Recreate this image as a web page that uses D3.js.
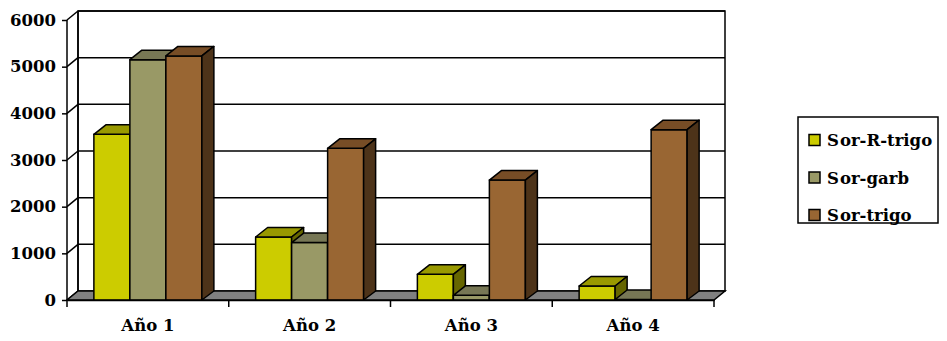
<!DOCTYPE html>
<html>
<head>
<meta charset="utf-8">
<script src="https://cdn.jsdelivr.net/npm/d3@7"></script>
<style>
  body { margin: 0; background: #fff; }
  svg text { font-family: "DejaVu Serif"; font-weight: bold; }
</style>
</head>
<body>
<svg id="chart" width="947" height="341"></svg>
<script>
const categories = ["Año 1", "Año 2", "Año 3", "Año 4"];
const seriesNames = ["Sor-R-trigo", "Sor-garb", "Sor-trigo"];
const sorRtrigo = [3550, 1350, 550, 300];
const sorGarb = [5150, 1230, 100, 10];
const sorTrigo = [5230, 3250, 2570, 3650];
const yTicks = [0, 1000, 2000, 3000, 4000, 5000, 6000];

const fronts = ["#cccc00", "#999966", "#996633"];
const tops = ["#999900", "#777755", "#774d26"];
const sides = ["#666600", "#4d4d33", "#4d3319"];
const values = [sorRtrigo, sorGarb, sorTrigo];

const svg = d3.select("#chart");
const dx = 11, dy = -9;           // wall/floor depth
const bdx = 12, bdy = -9.5;       // bar depth
const x = d3.scaleBand().domain(categories).range([67, 714]);
const y = d3.scaleLinear().domain([0, 6000]).range([300, 20]);
const barW = 36;
const xs = d3.scaleBand().domain(d3.range(3)).range([0, barW * 3]);
const groupOff = (x.bandwidth() - barW * 3) / 2;
const fontSize = 16.5;

const poly = pts => "M" + pts.map(p => p.join(",")).join("L") + "Z";

// back wall
svg.append("path")
  .attr("d", poly([[67 + dx, y(6000) + dy], [714 + dx, y(6000) + dy], [714 + dx, y(0) + dy], [67 + dx, y(0) + dy]]))
  .attr("fill", "#fff").attr("stroke", "#000").attr("stroke-width", 1.5);

// gridlines on back wall and side wall
yTicks.forEach(t => {
  if (t > 0) {
    svg.append("line")
      .attr("x1", 67 + dx).attr("x2", 714 + dx)
      .attr("y1", y(t) + dy).attr("y2", y(t) + dy)
      .attr("stroke", "#000").attr("stroke-width", 1.5);
  }
  svg.append("line")
    .attr("x1", 67).attr("y1", y(t))
    .attr("x2", 67 + dx).attr("y2", y(t) + dy)
    .attr("stroke", "#000").attr("stroke-width", 1.5);
});

svg.append("line")
  .attr("x1", 67 + dx).attr("x2", 67 + dx)
  .attr("y1", y(6000) + dy).attr("y2", y(0) + dy)
  .attr("stroke", "#000").attr("stroke-width", 1.5);

// floor
svg.append("path")
  .attr("d", poly([[67, y(0)], [714, y(0)], [714 + dx, y(0) + dy], [67 + dx, y(0) + dy]]))
  .attr("fill", "#808080").attr("stroke", "#000").attr("stroke-width", 1.5);

// bars, left to right so each front face hides the previous side
categories.forEach((c, ci) => {
  values.forEach((vals, si) => {
    const x0 = x(c) + groupOff + xs(si);
    const x1 = x0 + barW;
    const yt = y(vals[ci]);
    const yb = y(0);
    const g = svg.append("g").attr("stroke", "#000").attr("stroke-width", 1.5).attr("stroke-linejoin", "round");
    g.append("path").attr("d", poly([[x0, yt], [x1, yt], [x1, yb], [x0, yb]])).attr("fill", fronts[si]);
    g.append("path").attr("d", poly([[x0, yt], [x0 + bdx, yt + bdy], [x1 + bdx, yt + bdy], [x1, yt]])).attr("fill", tops[si]);
    g.append("path").attr("d", poly([[x1, yt], [x1 + bdx, yt + bdy], [x1 + bdx, yb + dy], [x1, yb]])).attr("fill", sides[si]);
  });
});

// y axis
const yAxis = svg.append("g").attr("transform", "translate(67,0)")
  .call(d3.axisLeft(y).tickValues(yTicks).tickSize(5).tickPadding(6).tickFormat(d3.format("d")));
yAxis.attr("font-family", null);
yAxis.selectAll("line,path").attr("stroke", "#000").attr("stroke-width", 1.5);
yAxis.select(".domain").attr("d", `M0,${y(6000)}V${y(0)}`);
yAxis.selectAll("text").attr("font-size", fontSize).attr("fill", "#000");

// x axis
const xAxis = svg.append("g").attr("transform", `translate(0,${y(0)})`)
  .call(d3.axisBottom(x).tickSize(0).tickPadding(19));
xAxis.attr("font-family", null);
xAxis.select(".domain").attr("stroke", "#000").attr("stroke-width", 1.5);
xAxis.selectAll("text").attr("font-size", fontSize).attr("fill", "#000");
[67, ...categories.map(c => x(c) + x.bandwidth())].forEach(px => {
  svg.append("line").attr("x1", px).attr("x2", px).attr("y1", y(0)).attr("y2", y(0) + 7)
    .attr("stroke", "#000").attr("stroke-width", 1.5);
});

// legend
const legend = svg.append("g");
legend.append("rect").attr("x", 798).attr("y", 117).attr("width", 140).attr("height", 106)
  .attr("fill", "#fff").attr("stroke", "#000").attr("stroke-width", 1.5);
const ly = d3.scalePoint().domain(seriesNames).range([140, 215]);
seriesNames.forEach((s, i) => {
  legend.append("rect").attr("x", 809).attr("y", ly(s) - 5.5).attr("width", 11).attr("height", 11)
    .attr("fill", fronts[i]).attr("stroke", "#000").attr("stroke-width", 1.5);
  const t = legend.append("text").attr("x", 827).attr("y", ly(s) + 6).attr("font-size", fontSize).attr("fill", "#000");
  t.append("tspan").text(s.slice(0, 1));
  t.append("tspan").attr("dx", 1).text(s.slice(1));
});
</script>
</body>
</html>
